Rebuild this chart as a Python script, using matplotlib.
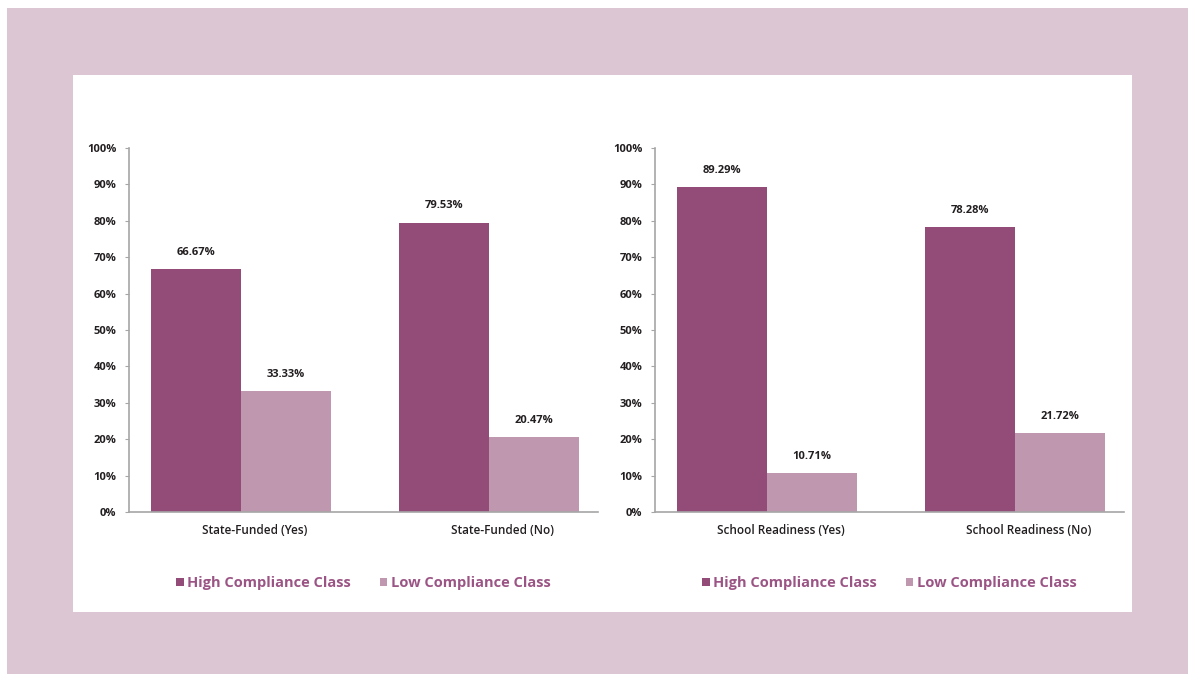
import matplotlib.pyplot as plt
from matplotlib.patches import Rectangle, Patch

plt.rcParams['font.family'] = ['Open Sans', 'DejaVu Sans']

# data
series_names = ['High Compliance Class', 'Low Compliance Class']
left_categories = ['State-Funded (Yes)', 'State-Funded (No)']
left_high = [66.67, 79.53]
left_low = [33.33, 20.47]
right_categories = ['School Readiness (Yes)', 'School Readiness (No)']
right_high = [89.29, 78.28]
right_low = [10.71, 21.72]
y_ticks = [0, 10, 20, 30, 40, 50, 60, 70, 80, 90, 100]

DARK = '#934c78'
LIGHT = '#bf98b0'
PINK = '#dcc6d3'
TEXT = '#231f20'
LEGEND_TEXT = '#9b5585'
AXIS_GREY = '#a6a6a6'

W, H = 1188, 674
fig = plt.figure(figsize=(W / 100, H / 100), dpi=100, facecolor='white')

# pink frame and white panel
fig.patches.append(Rectangle((7 / W, 0), 1 - 7 / W, (H - 8) / H,
                             transform=fig.transFigure, facecolor=PINK,
                             edgecolor='none', zorder=-2))
fig.patches.append(Rectangle((73 / W, (H - 612) / H), (1132 - 73) / W, (612 - 75) / H,
                             transform=fig.transFigure, facecolor='white',
                             edgecolor='none', zorder=-1))


def draw_chart(left_px, cats, high, low):
    ax = fig.add_axes([left_px / W, (H - 512) / H, 469 / W, 364 / H])
    ax.set_facecolor('none')
    bw = 0.363
    xs = list(range(len(cats)))
    hb = ax.bar([x - bw / 2 for x in xs], high, width=bw, color=DARK)
    lb = ax.bar([x + bw / 2 for x in xs], low, width=bw, color=LIGHT)
    for bars in (hb, lb):
        for b in bars:
            ax.annotate('{:.2f}%'.format(b.get_height()),
                        (b.get_x() + b.get_width() / 2, b.get_height()),
                        xytext=(0, 12), textcoords='offset points',
                        ha='center', va='center', fontsize=8,
                        fontweight='bold', color=TEXT)
    ax.set_xlim(-0.452, 1.44)
    ax.set_ylim(0, 100)
    ax.set_yticks(y_ticks)
    ax.set_yticklabels(['{}%'.format(t) for t in y_ticks])
    # Excel-style labels sit a little right of the group centre
    ax.set_xticks([x + 0.055 for x in xs])
    ax.set_xticklabels(cats)
    for s in ('top', 'right'):
        ax.spines[s].set_visible(False)
    for s in ('left', 'bottom'):
        ax.spines[s].set_color(AXIS_GREY)
        ax.spines[s].set_linewidth(1.2)
    ax.tick_params(axis='y', length=3, color=AXIS_GREY, pad=6,
                   labelsize=8, labelcolor=TEXT)
    ax.tick_params(axis='x', length=0, pad=9, labelsize=8.5, labelcolor=TEXT)
    for t in ax.get_yticklabels():
        t.set_fontweight('bold')
    for t in ax.get_xticklabels():
        t.set_fontweight('semibold')
    handles = [Patch(facecolor=DARK), Patch(facecolor=LIGHT)]
    leg = ax.legend(handles, series_names, loc='center',
                    bbox_to_anchor=(0.5, -0.195), ncol=2, frameon=False,
                    handlelength=0.5, handleheight=0.5, handletextpad=0.25,
                    columnspacing=2.0,
                    prop={'size': 10.5, 'weight': 'bold'})
    for t in leg.get_texts():
        t.set_color(LEGEND_TEXT)
    return ax


draw_chart(129, left_categories, left_high, left_low)
draw_chart(655, right_categories, right_high, right_low)

fig.savefig('out.png', dpi=100, facecolor='white')
